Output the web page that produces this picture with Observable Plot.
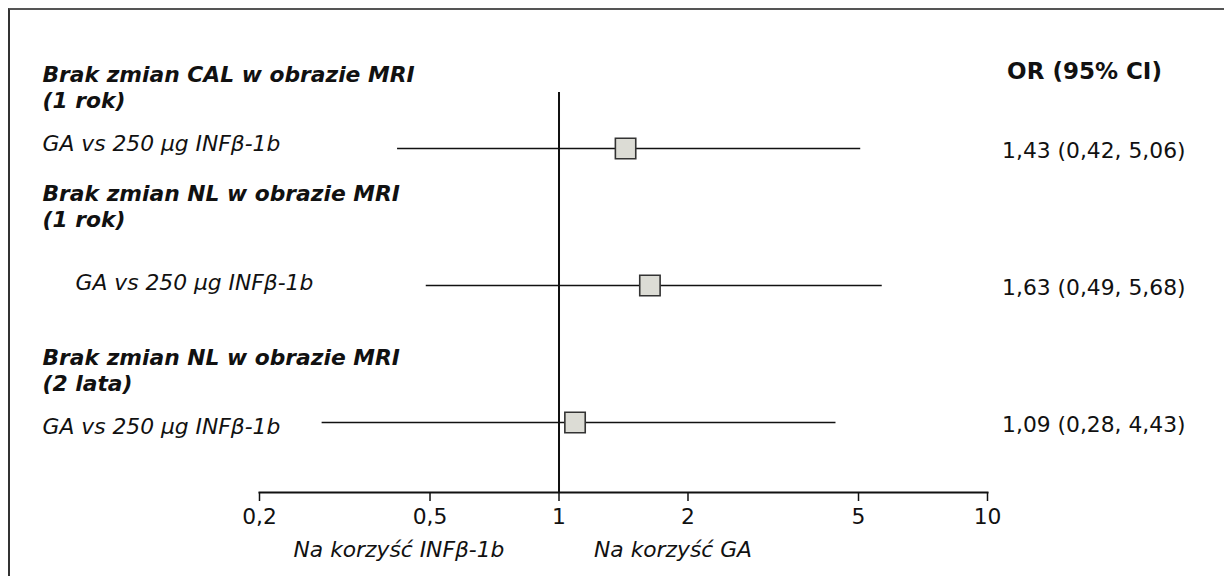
<!DOCTYPE html>
<html>
<head>
<meta charset="utf-8">
<script src="https://cdn.jsdelivr.net/npm/d3@7"></script>
<script src="https://cdn.jsdelivr.net/npm/@observablehq/plot@0.6"></script>
<style>
html, body { margin: 0; padding: 0; background: #fff; }
#wrap { position: relative; width: 1224px; height: 576px; overflow: hidden; }
#chart { position: absolute; left: 0; top: 0; }
#border { position: absolute; left: 8px; top: 8px; right: -4px; bottom: -4px;
  border-top: 2px solid #555; border-left: 2px solid #333; pointer-events: none; }
</style>
</head>
<body>
<div id="wrap"><div id="chart"></div><div id="border"></div></div>
<script>
// ---- data ----
const headings = [
  "Brak zmian CAL w obrazie MRI\n(1 rok)",
  "Brak zmian NL w obrazie MRI\n(1 rok)",
  "Brak zmian NL w obrazie MRI\n(2 lata)"
];
const comparisons = [
  "GA vs 250 μg INFβ-1b",
  "GA vs 250 μg INFβ-1b",
  "GA vs 250 μg INFβ-1b"
];
const orValues = [1.43, 1.63, 1.09];
const ciLow = [0.42, 0.49, 0.28];
const ciHigh = [5.06, 5.68, 4.43];
const xTicks = [0.2, 0.5, 1, 2, 5, 10];
const nullValue = 1;
const columnHeader = "OR (95% CI)";
const favourLeft = "Na korzyść INFβ-1b";
const favourRight = "Na korzyść GA";

// ---- build table ----
const comma = v => String(v).replace(".", ",");
const fmt2 = v => d3.format(".2f")(v).replace(".", ",");
const rows = orValues.map((v, i) => ({
  i, heading: headings[i], label: comparisons[i], or: v, lo: ciLow[i], hi: ciHigh[i],
  text: `${fmt2(v)} (${fmt2(ciLow[i])}, ${fmt2(ciHigh[i])})`
}));

const headingDy = [-62, -80, -53];
const labelDx = [-217, -184, -217];
const labelDy = [-4, -2, 5];

const marks = [
  Plot.ruleX([nullValue], {stroke: "#111", strokeWidth: 2}),
  Plot.frame({anchor: "bottom", stroke: "#111", strokeWidth: 2}),
  Plot.axisX({ticks: xTicks, tickFormat: comma, tickSize: 9, tickPadding: 7,
    stroke: "#111", strokeWidth: 1.5, fill: "#111", label: null}),
  Plot.ruleY(rows, {y: "i", x1: "lo", x2: "hi", stroke: "#111", strokeWidth: 1.5}),
  Plot.dot(rows, {x: "or", y: "i", symbol: "square", r: 11.5, fill: "#dcdcd5",
    stroke: "#333", strokeWidth: 1.6}),
  Plot.text(rows, {y: "i", text: "text", frameAnchor: "right", dx: 198, dy: 3,
    textAnchor: "end", fill: "#111"}),
  Plot.text([columnHeader], {text: d => d, frameAnchor: "top-right", dx: 97, dy: -21,
    lineAnchor: "middle", textAnchor: "middle", fontWeight: "bold", fontSize: 23, fill: "#111"}),
  Plot.text([favourLeft], {x: () => nullValue, text: d => d, frameAnchor: "bottom",
    dx: -160, dy: 58, lineAnchor: "middle", textAnchor: "middle", fontStyle: "italic", fill: "#111"}),
  Plot.text([favourRight], {x: () => nullValue, text: d => d, frameAnchor: "bottom",
    dx: 114, dy: 58, lineAnchor: "middle", textAnchor: "middle", fontStyle: "italic", fill: "#111"})
];
rows.forEach((r, k) => {
  marks.push(Plot.text([r], {y: "i", text: "heading", frameAnchor: "left", dx: -217,
    dy: headingDy[k], textAnchor: "start", lineHeight: 1.2, fontWeight: "bold",
    fontStyle: "italic", fill: "#111"}));
  marks.push(Plot.text([r], {y: "i", text: "label", frameAnchor: "left", dx: labelDx[k],
    dy: labelDy[k], textAnchor: "start", fontStyle: "italic", fill: "#111"}));
});

const chart = Plot.plot({
  width: 1224,
  height: 576,
  marginLeft: 259,
  marginRight: 237,
  marginTop: 92,
  marginBottom: 84,
  style: {fontFamily: "'DejaVu Sans', Verdana, sans-serif", fontSize: "21.8px",
    background: "transparent", color: "#111", overflow: "visible"},
  x: {type: "log", domain: [0.2, 10]},
  y: {type: "point", domain: [0, 1, 2], range: [148, 422], padding: 0, axis: null},
  marks
});
document.getElementById("chart").appendChild(chart);
</script>
</body>
</html>
